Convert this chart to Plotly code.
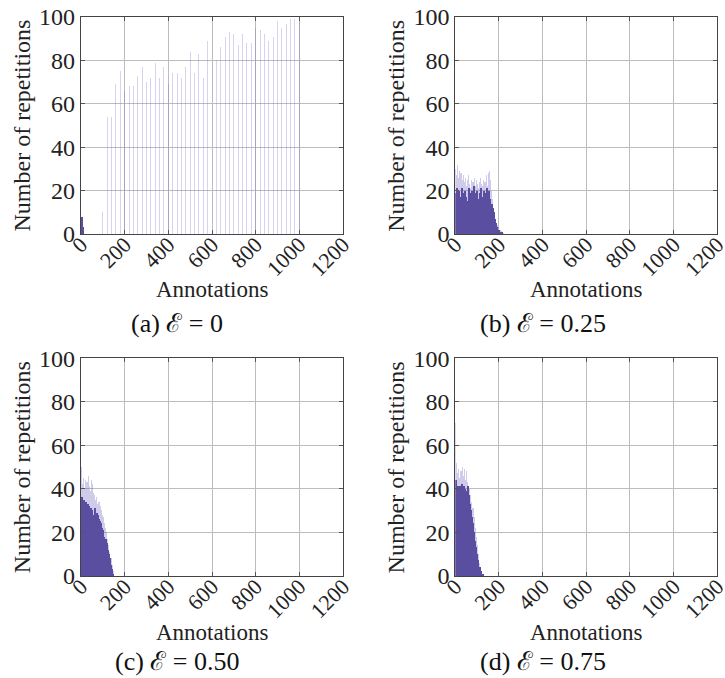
import plotly.graph_objects as go

# ---------------- data ----------------
# (a) E = 0 : isolated counts every 20 annotations + tiny cluster at 0
a_x = [100, 120, 140, 160, 180, 200, 220, 240, 260, 280, 300, 320, 340, 360, 380,
       400, 420, 440, 460, 480, 500, 520, 540, 560, 580, 600, 620, 640, 660, 680,
       700, 720, 740, 760, 780, 800, 820, 840, 860, 880, 900, 920, 940, 960, 980, 1000]
a_y = [10, 54, 54, 69, 75, 66, 68, 68, 73, 77, 70, 72, 79, 72, 77,
       69, 74, 74, 72, 77, 84, 74, 83, 72, 89, 78, 80, 86, 91, 93,
       92, 87, 92, 88, 88, 95, 94, 92, 89, 91, 98, 95, 97, 99, 99, 99]
a_core_x = [0, 5]
a_core_y = [8, 3]

# (b) E = 0.25 : bins of 5 annotations, 0..220
b_x = [0, 5, 10, 15, 20, 25, 30, 35, 40, 45, 50, 55, 60, 65, 70, 75, 80, 85, 90, 95,
       100, 105, 110, 115, 120, 125, 130, 135, 140, 145, 150, 155, 160, 165, 170, 175,
       180, 185, 190, 195, 200, 205, 210, 215, 220]
b_core = [19, 21, 15, 20, 17, 16, 21, 14, 19, 20, 17, 15, 21, 19, 16, 20, 17, 22, 15, 19,
          20, 16, 19, 21, 17, 15, 20, 19, 16, 21, 17, 20, 16, 14, 12, 10, 7, 5, 3, 2,
          2, 1, 1, 1, 0]
b_peak = [30, 27, 32, 26, 29, 28, 25, 27, 24, 26, 22, 25, 27, 23, 21, 25, 24, 26, 22, 25,
          23, 21, 24, 26, 23, 22, 25, 24, 27, 22, 28, 29, 25, 20, 16, 12, 9, 6, 4, 3,
          2, 2, 1.5, 1, 0.5]

# (c) E = 0.50 : bins of 5 annotations, 0..145
c_x = [0, 5, 10, 15, 20, 25, 30, 35, 40, 45, 50, 55, 60, 65, 70, 75, 80, 85, 90, 95,
       100, 105, 110, 115, 120, 125, 130, 135, 140, 145]
c_core = [36, 33, 35, 31, 34, 30, 33, 32, 29, 31, 30, 28, 31, 27, 29, 28, 26, 25, 24, 22,
          21, 18, 17, 15, 12, 10, 8, 5, 3, 1]
c_peak = [50, 42, 45, 40, 44, 43, 46, 41, 39, 44, 42, 38, 37, 35, 36, 33, 34, 32, 30, 28,
          27, 24, 22, 20, 17, 14, 11, 8, 5, 2]

# (d) E = 0.75 : bins of 5 annotations, 0..125
d_x = [0, 5, 10, 15, 20, 25, 30, 35, 40, 45, 50, 55, 60, 65, 70, 75, 80, 85, 90, 95,
       100, 105, 110, 115, 120, 125]
d_core = [44, 40, 41, 39, 41, 40, 42, 38, 41, 40, 39, 41, 37, 33, 30, 27, 24, 20, 16, 13,
          10, 7, 4, 2, 1, 0.5]
d_peak = [70, 52, 47, 49, 45, 48, 50, 46, 49, 44, 48, 43, 41, 40, 37, 34, 31, 27, 22, 18,
          14, 10, 6, 4, 2, 1]

captions = ["(a) ℰ = 0", "(b) ℰ = 0.25", "(c) ℰ = 0.50", "(d) ℰ = 0.75"]
x_ticks = [0, 200, 400, 600, 800, 1000, 1200]
y_ticks = [0, 20, 40, 60, 80, 100]

# ---------------- style ----------------
W, H = 725, 678
FONT = "Liberation Serif"
FS = 24
DARK = "rgb(90,78,160)"
LIGHT = "rgba(110,98,190,0.33)"
THIN = "rgba(110,98,200,0.28)"

def px_x(p):
    return p / W

def px_y(p):
    return 1 - p / H

doms = [
    ((81, 343), (17, 234)),
    ((455.3, 717.3), (17, 234)),
    ((81, 343), (358.3, 576)),
    ((455.3, 717.3), (358.3, 576)),
]
caption_y = [323, 323, 661, 661]
caption_x = [177, 543, 177, 543]

fig = go.Figure()

def add(x, y, color, width, idx):
    ax = "" if idx == 0 else str(idx + 1)
    fig.add_trace(go.Bar(x=x, y=y, width=width, offset=0 if width >= 5 else None,
                         marker=dict(color=color, line=dict(width=0)),
                         xaxis="x" + ax, yaxis="y" + ax, showlegend=False))

add(a_x, a_y, THIN, 4.5, 0)
add(a_core_x, a_core_y, DARK, 5, 0)
add(b_x, b_peak, LIGHT, 5, 1)
add(b_x, b_core, DARK, 5, 1)
add(c_x, c_peak, LIGHT, 5, 2)
add(c_x, c_core, DARK, 5, 2)
add(d_x, d_peak, LIGHT, 5, 3)
add(d_x, d_core, DARK, 5, 3)

layout = dict(
    width=W, height=H, margin=dict(l=0, r=0, t=0, b=0, autoexpand=False),
    paper_bgcolor="white", plot_bgcolor="white",
    barmode="overlay", bargap=0,
    font=dict(family=FONT, size=FS, color="#222"),
)

axis_common = dict(showline=True, linecolor="#444", linewidth=1.2, mirror="ticks",
                   ticks="inside", ticklen=4, tickcolor="#555", tickwidth=1,
                   showgrid=True, gridcolor="#bdbdbd", gridwidth=1, zeroline=False,
                   automargin=False, ticklabeloverflow="allow")

annotations = []
for i, ((x0, x1), (y0, y1)) in enumerate(doms):
    s = "" if i == 0 else str(i + 1)
    layout["xaxis" + s] = dict(axis_common, domain=[px_x(x0), px_x(x1)], range=[0, 1200],
                               tickmode="array", tickvals=x_ticks,
                               ticktext=[str(t) for t in x_ticks], tickangle=-45,
                               ticklabelstandoff=-12,
                               tickfont=dict(family=FONT, size=22, color="#222"),
                               anchor="y" + s)
    layout["yaxis" + s] = dict(axis_common, domain=[px_y(y1), px_y(y0)], range=[0, 100],
                               tickmode="array", tickvals=y_ticks,
                               ticktext=[str(t) for t in y_ticks],
                               tickfont=dict(family=FONT, size=FS, color="#222"),
                               anchor="x" + s)
    cx = (x0 + x1) / 2
    annotations.append(dict(text="Annotations", x=px_x(cx), y=px_y(y1 + 56),
                            xref="paper", yref="paper", showarrow=False,
                            xanchor="center", yanchor="middle",
                            font=dict(family=FONT, size=23, color="#222")))
    annotations.append(dict(text="Number of repetitions", x=px_x(x0 - 59),
                            y=px_y((y0 + y1) / 2), xref="paper", yref="paper",
                            showarrow=False, textangle=-90, xanchor="center",
                            yanchor="middle",
                            font=dict(family=FONT, size=FS, color="#222")))
    annotations.append(dict(text=captions[i], x=px_x(caption_x[i]),
                            y=px_y(caption_y[i]),
                            xref="paper", yref="paper", showarrow=False,
                            xanchor="center", yanchor="middle",
                            font=dict(family=FONT, size=26, color="#111")))

layout["annotations"] = annotations
fig.update_layout(**layout)
fig.write_html("out.html")
